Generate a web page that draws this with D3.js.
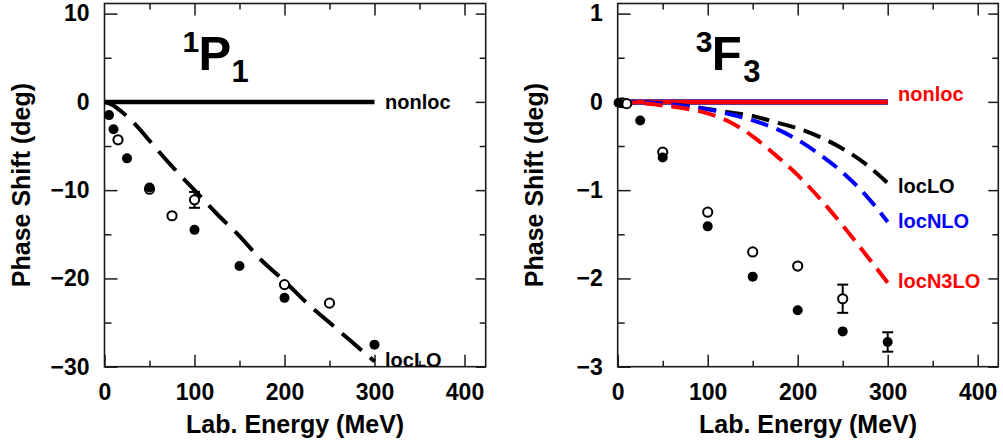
<!DOCTYPE html>
<html>
<head>
<meta charset="utf-8">
<script src="https://cdn.jsdelivr.net/npm/d3@7"></script>
<style>
  html, body { margin: 0; padding: 0; background: #fff; }
  svg { display: block; }
  text { font-family: "Liberation Sans", Arial, Helvetica, sans-serif; font-weight: bold; }
</style>
</head>
<body>
<svg id="chart" width="1003" height="446"></svg>
<script>
// ---------------- DATA ----------------
// Left panel: 1P1
const p1CurveEnergy = [0, 10, 20, 30, 40, 50, 75, 100, 125, 150, 175, 200, 225, 250, 275, 300];
const p1LocLO       = [0, -0.4, -1.2, -2.1, -3.2, -4.4, -7.3, -10.0, -12.7, -15.2, -18.0, -20.3, -22.8, -25.0, -27.2, -29.4];
const p1NonlocEnergy = [0, 300];
const p1Nonloc       = [0, 0];

const p1FilledEnergy = [5, 10, 25, 50, 100, 150, 200, 300];
const p1FilledPhase  = [-1.5, -3.1, -6.4, -9.7, -14.5, -18.6, -22.2, -27.5];
const p1OpenEnergy   = [15, 50, 75, 100, 200, 250];
const p1OpenPhase    = [-4.3, -9.9, -12.9, -11.1, -20.7, -22.8];
const p1OpenError    = [0, 0, 0, 0.9, 0, 0];

// Right panel: 3F3
const f3CurveEnergy = [0, 25, 50, 75, 100, 125, 150, 175, 200, 225, 250, 275, 300];
const f3LocLO   = [0, -0.005, -0.02, -0.045, -0.08, -0.12, -0.16, -0.23, -0.30, -0.40, -0.53, -0.70, -0.92];
const f3LocNLO  = [0, -0.005, -0.02, -0.05, -0.085, -0.14, -0.21, -0.30, -0.43, -0.60, -0.80, -1.05, -1.36];
const f3LocN3LO = [0, -0.015, -0.04, -0.075, -0.13, -0.23, -0.39, -0.60, -0.83, -1.10, -1.40, -1.72, -2.05];
const f3NonlocEnergy = [0, 300];
const f3Nonloc       = [0, 0];

const f3FilledEnergy = [1, 25, 50, 100, 150, 200, 250, 300];
const f3FilledPhase  = [-0.01, -0.21, -0.63, -1.41, -1.98, -2.36, -2.60, -2.72];
const f3FilledError  = [0, 0, 0, 0, 0, 0, 0, 0.11];
const f3OpenEnergy   = [5, 10, 50, 100, 150, 200, 250];
const f3OpenPhase    = [-0.01, -0.02, -0.57, -1.25, -1.70, -1.86, -2.23];
const f3OpenError    = [0, 0, 0, 0, 0, 0, 0.16];

const xTicks = [0, 100, 200, 300, 400];
const xMinorTicks = [50, 150, 250, 350];
const p1YTicks = [-30, -20, -10, 0, 10];
const p1YMinor = [-25, -15, -5, 5];
const f3YTicks = [-3, -2, -1, 0, 1];
const f3YMinor = [-2.5, -1.5, -0.5, 0.5];

// ---------------- DRAW ----------------
const svg = d3.select("#chart");
const frameColor = "#1a1a1a";

function zip(xs, ys) { return xs.map((x, i) => [x, ys[i]]); }

function panel(cfg) {
  const g = svg.append("g");
  const x = d3.scaleLinear().domain([0, 400]).range([cfg.left, cfg.left + 360]);
  const y = d3.scaleLinear().domain(cfg.yDomain).range([366.7, 13.6]);
  const L = cfg.left, R = cfg.right, T = 3.5, B = 366.7;

  const styleAxis = sel => {
    sel.select(".domain").remove();
    sel.selectAll(".tick line").attr("stroke", frameColor).attr("stroke-width", 1.5);
    sel.selectAll("text").attr("fill", "#000").style("font-size", "23px")
      .style("font-family", '"Liberation Sans", Arial, sans-serif').style("font-weight", "bold");
  };
  g.append("g").attr("transform", `translate(0,${B})`)
    .call(d3.axisBottom(x).tickValues(xTicks).tickSize(-12).tickPadding(17).tickFormat(d3.format("d")))
    .call(styleAxis);
  g.append("g").attr("transform", `translate(0,${B})`)
    .call(d3.axisBottom(x).tickValues(xMinorTicks).tickSize(-6).tickFormat(""))
    .call(styleAxis);
  g.append("g").attr("transform", `translate(0,${T})`)
    .call(d3.axisTop(x).tickValues(xTicks.filter(v => v > 0)).tickSize(-12).tickFormat(""))
    .call(styleAxis);
  g.append("g").attr("transform", `translate(0,${T})`)
    .call(d3.axisTop(x).tickValues(xMinorTicks).tickSize(-6).tickFormat(""))
    .call(styleAxis);
  g.append("g").attr("transform", `translate(${L},0)`)
    .call(d3.axisLeft(y).tickValues(cfg.yTicks).tickSize(-13).tickPadding(15).tickFormat(d3.format("d")))
    .call(styleAxis);
  g.append("g").attr("transform", `translate(${L},0)`)
    .call(d3.axisLeft(y).tickValues(cfg.yMinor).tickSize(-7).tickFormat(""))
    .call(styleAxis);
  g.append("g").attr("transform", `translate(${R},0)`)
    .call(d3.axisRight(y).tickValues(cfg.yTicks).tickSize(-10).tickFormat(""))
    .call(styleAxis);
  g.append("g").attr("transform", `translate(${R},0)`)
    .call(d3.axisRight(y).tickValues(cfg.yMinor).tickSize(-6).tickFormat(""))
    .call(styleAxis);

  g.append("rect").attr("x", L).attr("y", T).attr("width", R - L).attr("height", B - T)
    .attr("fill", "none").attr("stroke", frameColor).attr("stroke-width", 1.6);

  g.append("text").attr("x", (L + R) / 2).attr("y", 433).attr("text-anchor", "middle")
    .style("font-size", "25px").text("Lab. Energy (MeV)");
  g.append("text").attr("transform", `translate(${L - 75},${(T + B) / 2}) rotate(-90)`)
    .attr("text-anchor", "middle").style("font-size", "25px").text("Phase Shift (deg)");

  const line = d3.line().x(d => x(d[0])).y(d => y(d[1])).curve(d3.curveMonotoneX);
  cfg.curves.forEach(c => {
    g.append("path").datum(zip(c.e, c.v)).attr("d", line)
      .attr("fill", "none").attr("stroke", c.color).attr("stroke-width", c.width)
      .attr("stroke-dasharray", c.dash || null).attr("stroke-linecap", "butt");
  });

  const errBars = (es, ps, errs) => {
    es.forEach((e, i) => {
      if (!errs || !errs[i]) return;
      const cx = x(e), y1 = y(ps[i] + errs[i]), y2 = y(ps[i] - errs[i]);
      g.append("line").attr("x1", cx).attr("x2", cx).attr("y1", y1).attr("y2", y2)
        .attr("stroke", "#000").attr("stroke-width", 2);
      [y1, y2].forEach(yy => g.append("line").attr("x1", cx - 5.5).attr("x2", cx + 5.5)
        .attr("y1", yy).attr("y2", yy).attr("stroke", "#000").attr("stroke-width", 2));
    });
  };
  errBars(cfg.openE, cfg.openP, cfg.openErr);
  errBars(cfg.filledE, cfg.filledP, cfg.filledErr);

  g.selectAll(null).data(zip(cfg.openE, cfg.openP)).enter().append("circle")
    .attr("cx", d => x(d[0])).attr("cy", d => y(d[1])).attr("r", 4.6)
    .attr("fill", "#fff").attr("stroke", "#000").attr("stroke-width", 2);
  g.selectAll(null).data(zip(cfg.filledE, cfg.filledP)).enter().append("circle")
    .attr("cx", d => x(d[0])).attr("cy", d => y(d[1])).attr("r", 5)
    .attr("fill", "#000");

  cfg.labels.forEach(l => {
    g.append("text").attr("x", cfg.labelX).attr("y", l.y).attr("fill", l.color)
      .style("font-size", "20px").text(l.text);
  });

  const t = cfg.title;
  g.append("text").attr("x", L + 78).attr("y", 51.7).style("font-size", "30px").text(t.sup);
  g.append("text").attr("x", L + 94).attr("y", 70).style("font-size", "49px").text(t.main);
  g.append("text").attr("x", L + t.subOffset).attr("y", 81.7).style("font-size", "31px").text(t.sub);
}

panel({
  left: 104.5, right: 485.7, yDomain: [-30, 10], yTicks: p1YTicks, yMinor: p1YMinor,
  curves: [
    { e: p1NonlocEnergy, v: p1Nonloc, color: "#000", width: 4.5 },
    { e: p1CurveEnergy, v: p1LocLO, color: "#000", width: 4, dash: "26,11" }
  ],
  filledE: p1FilledEnergy, filledP: p1FilledPhase, filledErr: null,
  openE: p1OpenEnergy, openP: p1OpenPhase, openErr: p1OpenError,
  labelX: 385,
  labels: [
    { text: "nonloc", y: 108.5, color: "#000" },
    { text: "locLO", y: 366.5, color: "#000" }
  ],
  title: { sup: "1", main: "P", sub: "1", subOffset: 127 }
});

panel({
  left: 617.7, right: 998.3, yDomain: [-3, 1], yTicks: f3YTicks, yMinor: f3YMinor,
  curves: [
    { e: f3NonlocEnergy, v: f3Nonloc, color: "#000", width: 5 },
    { e: f3NonlocEnergy, v: f3Nonloc, color: "#0000ff", width: 5 },
    { e: f3NonlocEnergy, v: f3Nonloc, color: "#ff0000", width: 4.5 },
    { e: f3CurveEnergy, v: f3LocLO, color: "#000", width: 4, dash: "18,9" },
    { e: f3CurveEnergy, v: f3LocNLO, color: "#0000ff", width: 4, dash: "18,9" },
    { e: f3CurveEnergy, v: f3LocN3LO, color: "#ff0000", width: 4, dash: "18,9" }
  ],
  filledE: f3FilledEnergy, filledP: f3FilledPhase, filledErr: f3FilledError,
  openE: f3OpenEnergy, openP: f3OpenPhase, openErr: f3OpenError,
  labelX: 898,
  labels: [
    { text: "nonloc", y: 101, color: "#ff0000" },
    { text: "locLO", y: 192.5, color: "#000" },
    { text: "locNLO", y: 228, color: "#0000ff" },
    { text: "locN3LO", y: 288, color: "#ff0000" }
  ],
  title: { sup: "3", main: "F", sub: "3", subOffset: 125.6 }
});
</script>
</body>
</html>
